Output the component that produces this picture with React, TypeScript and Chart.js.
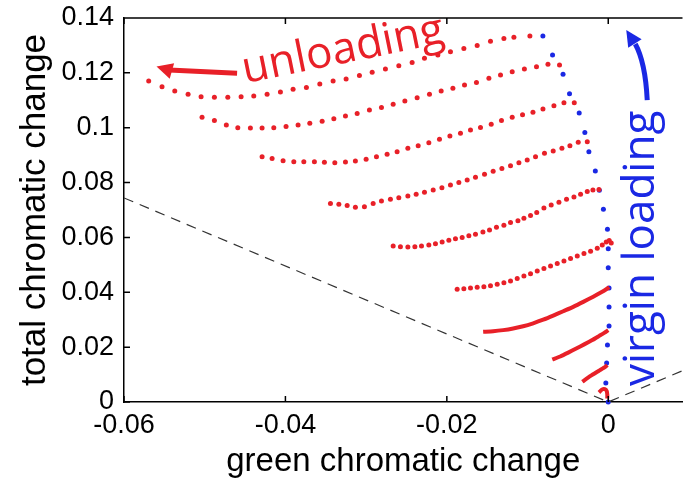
import React, { useEffect, useRef } from 'react';
import { Chart, registerables } from 'chart.js';

Chart.register(...registerables);

// ---- axes ----
const xTicks = [-0.06, -0.04, -0.02, 0];
const xTickLabels = ['-0.06', '-0.04', '-0.02', '0'];
const yTicks = [0, 0.02, 0.04, 0.06, 0.08, 0.1, 0.12, 0.14];
const yTickLabels = ['0', '0.02', '0.04', '0.06', '0.08', '0.1', '0.12', '0.14'];

// ---- virgin loading (blue) ----
const virginX = [0, -0.0003, -0.0002, -0.0001, 0.0001, 0.0001, 0.0001, 0.0000, -0.0000, -0.0001, -0.0006, -0.0011, -0.0016, -0.0024, -0.0029, -0.0036, -0.0048, -0.0056, -0.0069, -0.0081];
const virginY = [0, 0.0069, 0.0142, 0.0208, 0.0277, 0.0346, 0.0416, 0.0489, 0.0559, 0.0630, 0.0703, 0.0772, 0.0842, 0.0912, 0.0983, 0.1054, 0.1124, 0.1195, 0.1265, 0.1334];

// ---- unloading curves (red) ----
const unloadAX = [-0.05694, -0.05529, -0.05371, -0.05206, -0.05045, -0.04880, -0.04714, -0.04549, -0.04392, -0.04227, -0.04062, -0.03905, -0.03740, -0.03574, -0.03409, -0.03248, -0.03083, -0.02925, -0.02761, -0.02595, -0.02430, -0.02277, -0.02111, -0.01955, -0.01789, -0.01624, -0.01459, -0.01293, -0.01169, -0.00971];
const unloadAY = [0.1170, 0.1149, 0.1134, 0.1122, 0.1113, 0.1111, 0.1111, 0.1113, 0.1116, 0.1122, 0.1130, 0.1140, 0.1147, 0.1159, 0.1170, 0.1178, 0.1190, 0.1202, 0.1214, 0.1226, 0.1238, 0.1253, 0.1265, 0.1277, 0.1289, 0.1300, 0.1315, 0.1325, 0.1330, 0.1334];

const unloadBX = [-0.05033, -0.04880, -0.04732, -0.04590, -0.04434, -0.04289, -0.04144, -0.03992, -0.03843, -0.03698, -0.03545, -0.03400, -0.03256, -0.03111, -0.02959, -0.02810, -0.02665, -0.02520, -0.02368, -0.02215, -0.02070, -0.01925, -0.01781, -0.01633, -0.01479, -0.01335, -0.01190, -0.01039, -0.00889, -0.00747, -0.00604];
const unloadBY = [0.1038, 0.1026, 0.1010, 0.1000, 0.0999, 0.0999, 0.1000, 0.1004, 0.1010, 0.1016, 0.1024, 0.1033, 0.1043, 0.1052, 0.1065, 0.1074, 0.1086, 0.1097, 0.1109, 0.1122, 0.1134, 0.1144, 0.1156, 0.1165, 0.1180, 0.1192, 0.1204, 0.1214, 0.1222, 0.1231, 0.1229];

const unloadCX = [-0.04289, -0.04165, -0.04029, -0.03896, -0.03772, -0.03641, -0.03517, -0.03388, -0.03256, -0.03133, -0.03000, -0.02872, -0.02740, -0.02616, -0.02483, -0.02355, -0.02223, -0.02091, -0.01962, -0.01831, -0.01707, -0.01583, -0.01450, -0.01323, -0.01190, -0.01062, -0.00933, -0.00809, -0.00673, -0.00549, -0.00421];
const unloadCY = [0.0894, 0.0888, 0.0880, 0.0876, 0.0876, 0.0876, 0.0874, 0.0872, 0.0875, 0.0879, 0.0885, 0.0894, 0.0903, 0.0912, 0.0925, 0.0934, 0.0945, 0.0958, 0.0970, 0.0980, 0.0992, 0.1001, 0.1013, 0.1026, 0.1038, 0.1047, 0.1056, 0.1068, 0.1080, 0.1091, 0.1091];

const unloadDX = [-0.03442, -0.03338, -0.03235, -0.03133, -0.03021, -0.02913, -0.02810, -0.02699, -0.02595, -0.02483, -0.02380, -0.02277, -0.02169, -0.02061, -0.01955, -0.01851, -0.01748, -0.01645, -0.01533, -0.01426, -0.01318, -0.01211, -0.01107, -0.01004, -0.00901, -0.00790, -0.00682, -0.00574, -0.00475, -0.00372, -0.00260];
const unloadDY = [0.0724, 0.0721, 0.0716, 0.0710, 0.0712, 0.0724, 0.0733, 0.0739, 0.0745, 0.0751, 0.0757, 0.0765, 0.0773, 0.0781, 0.0791, 0.0800, 0.0809, 0.0819, 0.0830, 0.0841, 0.0851, 0.0861, 0.0872, 0.0882, 0.0894, 0.0907, 0.0915, 0.0925, 0.0934, 0.0947, 0.0949];

const unloadEX = [-0.02665, -0.02575, -0.02483, -0.02396, -0.02314, -0.02223, -0.02141, -0.02058, -0.01975, -0.01893, -0.01810, -0.01727, -0.01645, -0.01553, -0.01471, -0.01385, -0.01293, -0.01211, -0.01119, -0.01045, -0.00963, -0.00886, -0.00797, -0.00707, -0.00611, -0.00517, -0.00425, -0.00343, -0.00260, -0.00190, -0.00115];
const unloadEY = [0.0569, 0.0566, 0.0565, 0.0566, 0.0569, 0.0572, 0.0577, 0.0583, 0.0590, 0.0595, 0.0600, 0.0606, 0.0612, 0.0620, 0.0627, 0.0637, 0.0644, 0.0654, 0.0661, 0.0670, 0.0680, 0.0691, 0.0707, 0.0718, 0.0728, 0.0739, 0.0747, 0.0757, 0.0767, 0.0773, 0.0775];

const unloadFX = [-0.01872, -0.01789, -0.01707, -0.01624, -0.01541, -0.01459, -0.01376, -0.01293, -0.01211, -0.01128, -0.01045, -0.00963, -0.00880, -0.00797, -0.00715, -0.00632, -0.00549, -0.00467, -0.00384, -0.00301, -0.00219, -0.00136, -0.00074, -0.00025, 0.00012, 0.00037];
const unloadFY = [0.0411, 0.0413, 0.0416, 0.0418, 0.0420, 0.0424, 0.0429, 0.0435, 0.0441, 0.0450, 0.0459, 0.0468, 0.0478, 0.0487, 0.0496, 0.0505, 0.0514, 0.0523, 0.0532, 0.0541, 0.0550, 0.0561, 0.0572, 0.0583, 0.0589, 0.0580];

// dense (solid-looking) unloading curves
const unloadGX = [-0.01550, -0.01426, -0.01302, -0.01178, -0.01054, -0.00930, -0.00806, -0.00682, -0.00558, -0.00434, -0.00310, -0.00186, -0.00087, -0.00025, 0.00012];
const unloadGY = [0.0256, 0.0258, 0.0262, 0.0268, 0.0276, 0.0287, 0.0300, 0.0315, 0.0331, 0.0347, 0.0365, 0.0384, 0.0400, 0.0411, 0.0419];

const unloadHX = [-0.00694, -0.00595, -0.00496, -0.00397, -0.00298, -0.00198, -0.00112, -0.00050, 0];
const unloadHY = [0.0155, 0.0166, 0.0180, 0.0195, 0.0210, 0.0226, 0.0241, 0.0252, 0.0262];

const unloadIX = [-0.00322, -0.00219, -0.00115, -0.00033, -0.00012];
const unloadIY = [0.0074, 0.0095, 0.0114, 0.0129, 0.0135];

const unloadJX = [-0.00115, -0.00074, -0.00043, -0.00019, -0.00012, -0.00012];
const unloadJY = [0.0035, 0.0046, 0.0047, 0.0040, 0.0027, 0.0013];

// ---- dashed guide lines ----
const guideX = [-0.06, 0, 0.0092];
const guideY = [0.0744, 0, 0.0114];

// ---- annotations (data units) ----
const redArrowShaft = [[-0.04599, 0.1199], [-0.05033, 0.1205], [-0.05442, 0.1210]];
const redArrowTip = [-0.05597, 0.1223];
const blueArrowShaft = [[0.00483, 0.1101], [0.00459, 0.1239], [0.00335, 0.1305]];
const blueArrowTip = [0.00223, 0.1356];
const unloadLabelPos = [-0.04500, 0.1162];
const unloadLabelAngle = -11.5;
const virginLabelPos = [0.00570, 0.0058];
const virginLabelAngle = -90;

const RED = 'rgb(232, 32, 40)';
const BLUE = 'rgb(26, 40, 228)';
const AXIS_FONT = '"Liberation Sans", Arial, Helvetica, sans-serif';
const NOTE_FONT = '"Open Sans", sans-serif';

const pts = (xs: number[], ys: number[]) => xs.map((x, i) => ({ x, y: ys[i] }));

const overlayPlugin = {
  id: 'overlay',
  afterDatasetsDraw(chart: any) {
    const { ctx, chartArea: ca, scales } = chart;
    const sx = scales.x;
    const sy = scales.y;
    const P = (p: number[]) => [sx.getPixelForValue(p[0]), sy.getPixelForValue(p[1])];
    ctx.save();
    // frame top + inward ticks
    ctx.strokeStyle = '#000';
    ctx.lineWidth = 1.5;
    ctx.beginPath();
    ctx.moveTo(ca.left, ca.top);
    ctx.lineTo(ca.right, ca.top);
    xTicks.forEach((v) => {
      const X = sx.getPixelForValue(v);
      ctx.moveTo(X, ca.bottom);
      ctx.lineTo(X, ca.bottom - 6);
      ctx.moveTo(X, ca.top);
      ctx.lineTo(X, ca.top + 6);
    });
    yTicks.forEach((v) => {
      const Y = sy.getPixelForValue(v);
      ctx.moveTo(ca.left, Y);
      ctx.lineTo(ca.left + 6, Y);
    });
    ctx.stroke();

    const drawArrow = (shaft: number[][], tip: number[], color: string, headLen: number, headHalf: number) => {
      const s = shaft.map(P);
      const t = P(tip);
      ctx.strokeStyle = color;
      ctx.fillStyle = color;
      ctx.lineWidth = 5;
      ctx.lineCap = 'butt';
      ctx.beginPath();
      ctx.moveTo(s[0][0], s[0][1]);
      ctx.quadraticCurveTo(s[1][0], s[1][1], s[2][0], s[2][1]);
      ctx.stroke();
      const dx = t[0] - s[2][0];
      const dy = t[1] - s[2][1];
      const len = Math.hypot(dx, dy) || 1;
      const ux = dx / len;
      const uy = dy / len;
      const bx = t[0] - ux * headLen;
      const by = t[1] - uy * headLen;
      ctx.beginPath();
      ctx.moveTo(t[0], t[1]);
      ctx.lineTo(bx - uy * headHalf, by + ux * headHalf);
      ctx.lineTo(bx + uy * headHalf, by - ux * headHalf);
      ctx.closePath();
      ctx.fill();
    };
    drawArrow(redArrowShaft, redArrowTip, RED, 16, 8);
    drawArrow(blueArrowShaft, blueArrowTip, BLUE, 16, 8);

    const drawLabel = (text: string, pos: number[], angle: number, color: string, size: number) => {
      const p = P(pos);
      ctx.save();
      ctx.translate(p[0], p[1]);
      ctx.rotate((angle * Math.PI) / 180);
      ctx.font = `${size}px ${NOTE_FONT}`;
      ctx.fillStyle = color;
      ctx.textAlign = 'left';
      ctx.textBaseline = 'alphabetic';
      ctx.fillText(text, 0, 0);
      ctx.restore();
    };
    drawLabel('unloading', unloadLabelPos, unloadLabelAngle, RED, 44);
    drawLabel('virgin loading', virginLabelPos, virginLabelAngle, BLUE, 44);
    ctx.restore();
  },
};

export default function App() {
  const canvasRef = useRef<HTMLCanvasElement | null>(null);

  useEffect(() => {
    document.body.style.margin = '0';
    const canvas = canvasRef.current;
    if (!canvas) return;

    const dotted = (xs: number[], ys: number[], color: string) => ({
      data: pts(xs, ys),
      showLine: false,
      pointRadius: 2.5,
      pointHoverRadius: 2.5,
      pointBackgroundColor: color,
      pointBorderWidth: 0,
      borderColor: color,
      clip: false,
    });
    const solid = (xs: number[], ys: number[]) => ({
      data: pts(xs, ys),
      showLine: true,
      borderColor: RED,
      borderWidth: 4,
      pointRadius: 0,
      tension: 0.2,
      clip: false,
    });

    const chart = new Chart(canvas, {
      type: 'scatter',
      data: {
        datasets: [
          {
            data: pts(guideX, guideY),
            showLine: true,
            borderColor: '#333',
            borderWidth: 1.2,
            borderDash: [10, 7],
            pointRadius: 0,
          } as any,
          dotted(unloadAX, unloadAY, RED),
          dotted(unloadBX, unloadBY, RED),
          dotted(unloadCX, unloadCY, RED),
          dotted(unloadDX, unloadDY, RED),
          dotted(unloadEX, unloadEY, RED),
          dotted(unloadFX, unloadFY, RED),
          solid(unloadGX, unloadGY),
          solid(unloadHX, unloadHY),
          solid(unloadIX, unloadIY),
          solid(unloadJX, unloadJY),
          dotted(virginX, virginY, BLUE),
        ],
      },
      options: {
        animation: false,
        responsive: true,
        maintainAspectRatio: false,
        devicePixelRatio: 1,
        layout: { padding: { top: 18, right: 0, left: 0, bottom: 0 } },
        plugins: { legend: { display: false }, tooltip: { enabled: false } },
        scales: {
          x: {
            type: 'linear',
            min: -0.06,
            max: 0.0092,
            afterBuildTicks: (scale: any) => {
              scale.ticks = xTicks.map((v) => ({ value: v }));
            },
            afterFit: (scale: any) => {
              scale.height = 97;
              scale.paddingLeft = 0;
              scale.paddingRight = 0;
            },
            ticks: {
              callback: (_v: any, i: number) => xTickLabels[i],
              color: '#000',
              font: { family: AXIS_FONT, size: 27 },
              padding: 7,
              maxRotation: 0,
            },
            grid: { display: false, drawTicks: false },
            border: { display: true, color: '#000', width: 1.5 },
            title: {
              display: true,
              text: 'green chromatic change',
              color: '#000',
              font: { family: AXIS_FONT, size: 33 },
              padding: { top: 0, bottom: 17 },
            },
          },
          y: {
            type: 'linear',
            min: 0,
            max: 0.14,
            afterBuildTicks: (scale: any) => {
              scale.ticks = yTicks.map((v) => ({ value: v }));
            },
            afterFit: (scale: any) => {
              scale.width = 124;
              scale.paddingTop = 0;
              scale.paddingBottom = 0;
            },
            ticks: {
              callback: (_v: any, i: number) => yTickLabels[i],
              color: '#000',
              font: { family: AXIS_FONT, size: 27 },
              padding: 10,
            },
            grid: { display: false, drawTicks: false },
            border: { display: true, color: '#000', width: 1.5 },
            title: {
              display: true,
              text: 'total chromatic change',
              color: '#000',
              font: { family: AXIS_FONT, size: 35 },
              padding: { top: 14, bottom: 0 },
            },
          },
        },
      } as any,
      plugins: [overlayPlugin],
    });

    return () => chart.destroy();
  }, []);

  return (
    <div style={{ position: 'fixed', left: 0, top: 0, width: 685, height: 499, background: '#fff' }}>
      <canvas ref={canvasRef} />
    </div>
  );
}
